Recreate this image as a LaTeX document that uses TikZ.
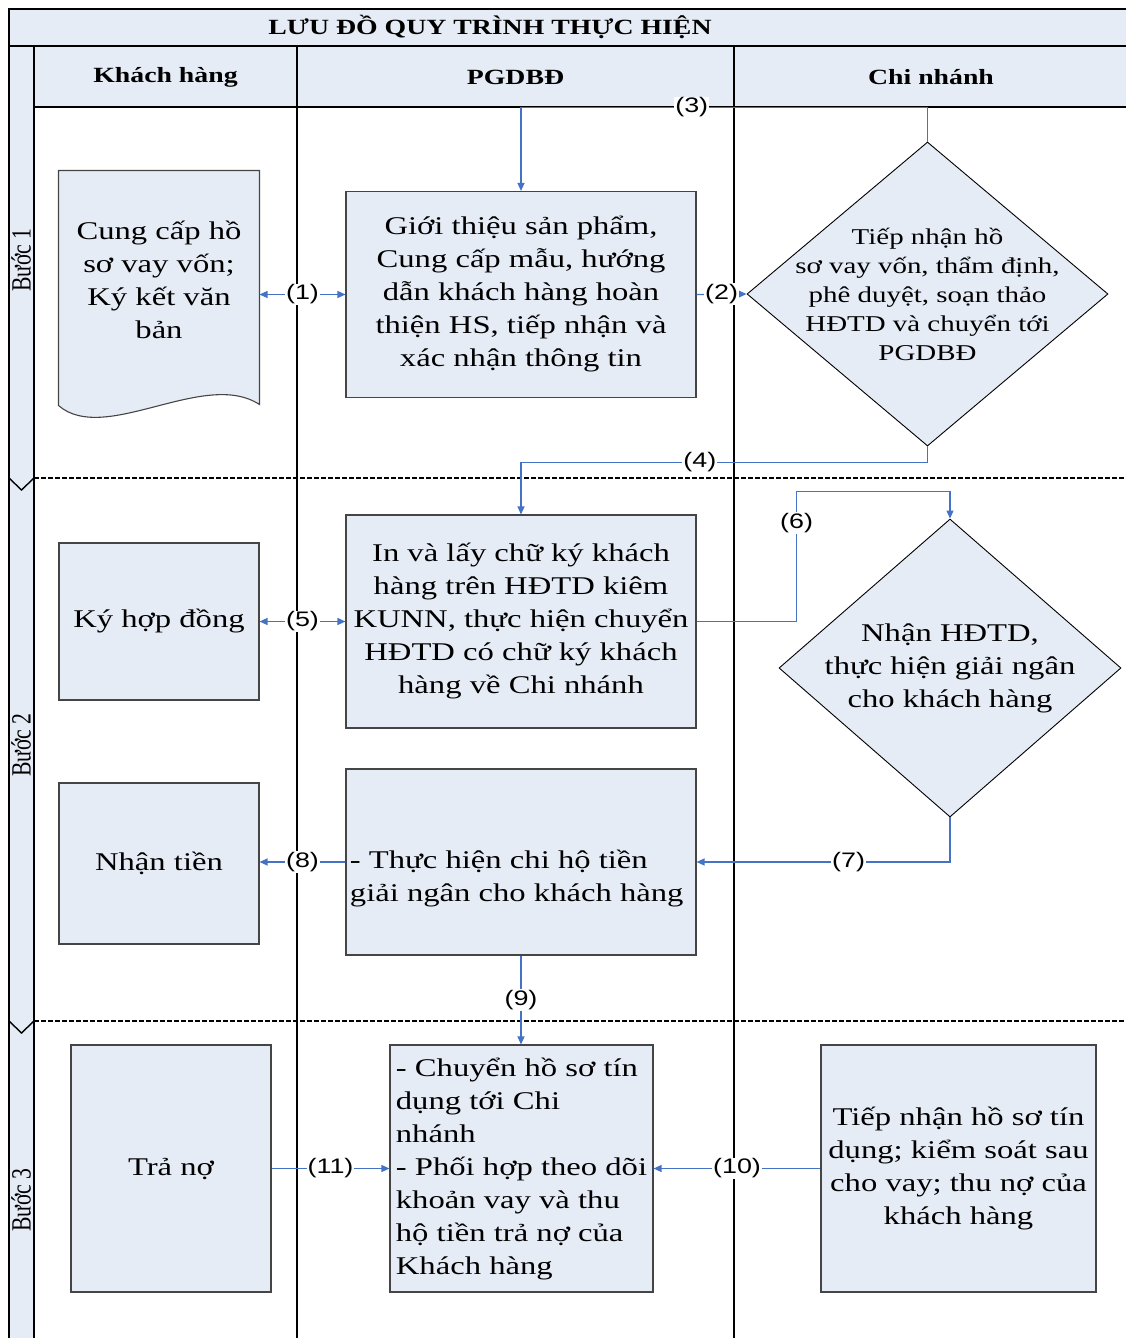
\documentclass[tikz,border=0pt]{standalone}
\usepackage{fontspec}
\setmainfont[FakeStretch=1.28]{Liberation Serif}
\newfontfamily\lblfont[FakeStretch=1.28]{Liberation Sans}
\newfontfamily\stepfont[FakeStretch=0.78]{Liberation Serif}
\usetikzlibrary{arrows.meta, shapes.geometric, calc}
\definecolor{cfill}{HTML}{E6ECF6}
\definecolor{cline}{HTML}{4472C4}
\definecolor{cedge}{HTML}{454545}
\tikzset{
  every picture/.style={line width=1pt},
  box/.style={draw=cedge, fill=cfill, line width=1.1pt, align=center, inner sep=3pt, font=\fontsize{25.5}{33}\selectfont},
  dia/.style={diamond, draw=black, fill=cfill, line width=0.9pt, inner sep=0pt},
  txt/.style={align=center, inner sep=0pt, font=\fontsize{25.5}{33}\selectfont},
  dtxt/.style={txt, font=\fontsize{22.6}{29}\selectfont},
  conn/.style={draw=cline, line width=1.2pt, -{Triangle[length=8pt,width=7pt]}},
  conn2/.style={conn, {Triangle[length=8pt,width=7pt]}-{Triangle[length=8pt,width=7pt]}},
  lbl/.style={fill=white, inner sep=1pt, font=\lblfont\fontsize{21}{24}\selectfont},
  head/.style={font=\bfseries\fontsize{21.7}{24}\selectfont},
  lane/.style={draw=black, line width=1.4pt},
  phase/.style={draw=black, line width=2.2pt, dash pattern=on 4.5pt off 2.5pt},
  steplbl/.style={rotate=90, font=\stepfont\fontsize{27.8}{30}\selectfont},
}

\begin{document}
\begin{tikzpicture}[x=1pt, y=-1pt]
  \useasboundingbox (0,0) rectangle (1126,1338);
  % swimlane frame
  \fill[cfill] (9,9) rectangle (1130,46);
  \fill[cfill] (34,46) rectangle (1130,107);
  \fill[cfill] (9,46) rectangle (34,1340);
  \draw[lane] (1130,9) -- (9,9) -- (9,1340);
  \draw[lane] (9,46) -- (1130,46);
  \draw[lane] (34,107) -- (1130,107);
  \foreach \x in {34,297,734} \draw[lane] (\x,46) -- (\x,1340);
  \foreach \y in {478,1021} {
    \draw[phase] (34,\y) -- (1130,\y);
    \draw[lane] (9,\y) -- (21.5,\y+12) -- (34,\y);
  }
  \node[head] (title) at (490,27) {LƯU ĐỒ QUY TRÌNH THỰC HIỆN};
  \node[head] (hkh) at (165.5,77.5) {Khách hàng};
  \node[head] (hpg) at (515.5,77.5) {PGDBĐ};
  \node[head] (hcn) at (931,77.5) {Chi nhánh};
  \node[steplbl] (s1) at (21,260) {Bước 1};
  \node[steplbl] (s2) at (21,745) {Bước 2};
  \node[steplbl] (s3) at (21,1200) {Bước 3};

  % buoc 1
  \node[minimum width=200pt, minimum height=217pt] (doc1) at (159,279.5) {};
  \draw[draw=cedge, fill=cfill, line width=1.1pt] (doc1.north west) -- ([yshift=-17pt]doc1.south west)
    .. controls ([shift={(46pt,-57pt)}]doc1.south west) and ([shift={(146pt,20pt)}]doc1.south west) .. ([yshift=-16pt]doc1.south east)
    -- (doc1.north east) -- cycle;
  \node[txt] (doc1t) at (doc1) {Cung cấp hồ\\sơ vay vốn;\\Ký kết văn\\bản};
  \node[box, minimum width=350pt, minimum height=206pt] (p1) at (521,294.5) {Giới thiệu sản phẩm,\\Cung cấp mẫu, hướng\\dẫn khách hàng hoàn\\thiện HS, tiếp nhận và\\xác nhận thông tin};
  \node[dia, minimum width=361pt, minimum height=304pt] (d1) at (927.5,294) {};
  \node[dtxt] (d1t) at (d1) {Tiếp nhận hồ\\sơ vay vốn, thẩm định,\\phê duyệt, soạn thảo\\HĐTD và chuyển tới\\PGDBĐ};

  % buoc 2
  \node[box, minimum width=200pt, minimum height=157pt] (c2) at (159,621.5) {Ký hợp đồng};
  \node[box, minimum width=350pt, minimum height=213pt] (p2) at (521,621.5) {In và lấy chữ ký khách\\hàng trên HĐTD kiêm\\KUNN, thực hiện chuyển\\HĐTD có chữ ký khách\\hàng về Chi nhánh};
  \node[dia, minimum width=342pt, minimum height=298pt] (d2) at (950,668) {};
  \node[txt] (d2t) at (d2) {Nhận HĐTD,\\thực hiện giải ngân\\cho khách hàng};
  \node[box, minimum width=200pt, minimum height=161pt] (c3) at (159,863.5) {Nhận tiền};
  \node[box, minimum width=350pt, minimum height=186pt] (p3) at (521,862) {};
  \node[txt, align=left, anchor=west] (p3t) at ($(p3.west)+(4,16.5)$) {- Thực hiện chi hộ tiền\\giải ngân cho khách hàng};

  % buoc 3
  \node[box, minimum width=200pt, minimum height=247pt] (c4) at (171,1168.5) {Trả nợ};
  \node[box, align=left, minimum width=263pt, minimum height=247pt] (p4) at (521.5,1168.5) {- Chuyển hồ sơ tín\\dụng tới Chi\\nhánh\\- Phối hợp theo dõi\\khoản vay và thu\\hộ tiền trả nợ của\\Khách hàng};
  \node[box, minimum width=275pt, minimum height=247pt] (n4) at (958.5,1168.5) {Tiếp nhận hồ sơ tín\\dụng; kiểm soát sau\\cho vay; thu nợ của\\khách hàng};

  % connectors
  \draw[conn2] (doc1.east |- p1.west) -- node[lbl] {(1)} (p1.west);
  \draw[conn] (p1.east) -- node[lbl] {(2)} (d1.west);
  \draw[conn] (d1.north) -- ++(0,-34) -| node[lbl, pos=0.29] {(3)} (p1.north);
  \draw[conn] (d1.south) -- ++(0,16) -| node[lbl, pos=0.28] {(4)} (p2.north);
  \draw[conn2] (c2.east) -- node[lbl] {(5)} (p2.west);
  \draw[conn] (p2.east) -- ++(100,0) |- node[lbl, pos=0.38] {(6)} ([yshift=27pt]d2.north) -- (d2.north);
  \draw[conn] (d2.south) |- node[lbl, pos=0.7] {(7)} (p3.east);
  \draw[conn] (p3.west) -- node[lbl] {(8)} (c3.east |- p3.west);
  \draw[conn] (p3.south) -- node[lbl] {(9)} (p3.south |- p4.north);
  \draw[conn] (n4.west) -- node[lbl] {(10)} (p4.east);
  \draw[conn] (c4.east) -- node[lbl] {(11)} (p4.west);
\end{tikzpicture}
\end{document}
